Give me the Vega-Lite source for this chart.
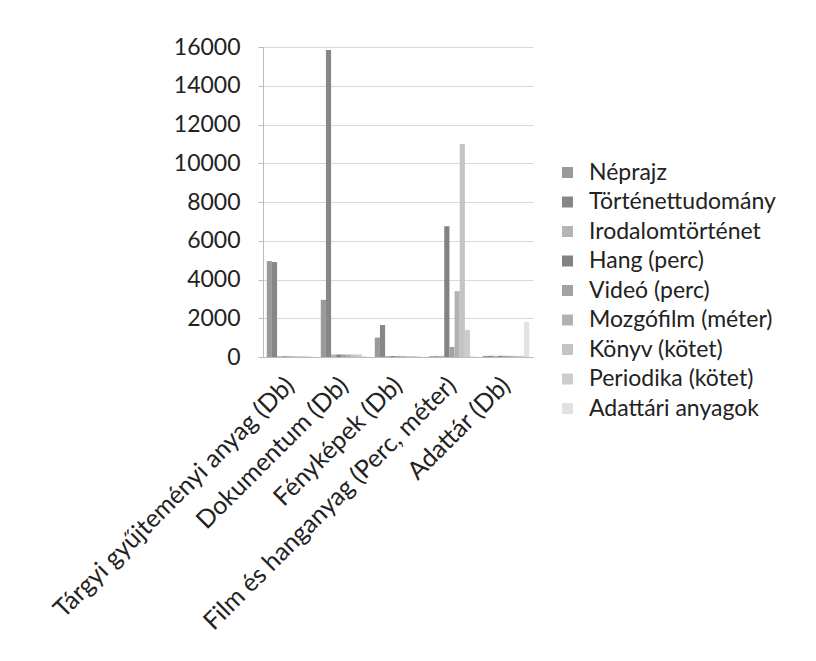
{
  "$schema": "https://vega.github.io/schema/vega-lite/v6.json",
  "width": 270,
  "height": 310,
  "autosize": {"type": "none"},
  "padding": {"left": 263, "top": 47, "right": 283, "bottom": 304},
  "background": "white",
  "data": {
    "values": [
      {"kat": "Tárgyi gyűjteményi anyag (Db)", "sor": "Néprajz", "ertek": 4950},
      {"kat": "Tárgyi gyűjteményi anyag (Db)", "sor": "Történettudomány", "ertek": 4900},
      {"kat": "Tárgyi gyűjteményi anyag (Db)", "sor": "Irodalomtörténet", "ertek": 40},
      {"kat": "Tárgyi gyűjteményi anyag (Db)", "sor": "Hang (perc)", "ertek": 40},
      {"kat": "Tárgyi gyűjteményi anyag (Db)", "sor": "Videó (perc)", "ertek": 40},
      {"kat": "Tárgyi gyűjteményi anyag (Db)", "sor": "Mozgófilm (méter)", "ertek": 40},
      {"kat": "Tárgyi gyűjteményi anyag (Db)", "sor": "Könyv (kötet)", "ertek": 40},
      {"kat": "Tárgyi gyűjteményi anyag (Db)", "sor": "Periodika (kötet)", "ertek": 40},
      {"kat": "Tárgyi gyűjteményi anyag (Db)", "sor": "Adattári anyagok", "ertek": 40},
      {"kat": "Dokumentum (Db)", "sor": "Néprajz", "ertek": 2950},
      {"kat": "Dokumentum (Db)", "sor": "Történettudomány", "ertek": 15850},
      {"kat": "Dokumentum (Db)", "sor": "Irodalomtörténet", "ertek": 130},
      {"kat": "Dokumentum (Db)", "sor": "Hang (perc)", "ertek": 130},
      {"kat": "Dokumentum (Db)", "sor": "Videó (perc)", "ertek": 130},
      {"kat": "Dokumentum (Db)", "sor": "Mozgófilm (méter)", "ertek": 130},
      {"kat": "Dokumentum (Db)", "sor": "Könyv (kötet)", "ertek": 130},
      {"kat": "Dokumentum (Db)", "sor": "Periodika (kötet)", "ertek": 130},
      {"kat": "Dokumentum (Db)", "sor": "Adattári anyagok", "ertek": 40},
      {"kat": "Fényképek (Db)", "sor": "Néprajz", "ertek": 1000},
      {"kat": "Fényképek (Db)", "sor": "Történettudomány", "ertek": 1650},
      {"kat": "Fényképek (Db)", "sor": "Irodalomtörténet", "ertek": 50},
      {"kat": "Fényképek (Db)", "sor": "Hang (perc)", "ertek": 50},
      {"kat": "Fényképek (Db)", "sor": "Videó (perc)", "ertek": 50},
      {"kat": "Fényképek (Db)", "sor": "Mozgófilm (méter)", "ertek": 50},
      {"kat": "Fényképek (Db)", "sor": "Könyv (kötet)", "ertek": 50},
      {"kat": "Fényképek (Db)", "sor": "Periodika (kötet)", "ertek": 50},
      {"kat": "Fényképek (Db)", "sor": "Adattári anyagok", "ertek": 50},
      {"kat": "Film és hanganyag (Perc, méter)", "sor": "Néprajz", "ertek": 40},
      {"kat": "Film és hanganyag (Perc, méter)", "sor": "Történettudomány", "ertek": 40},
      {"kat": "Film és hanganyag (Perc, méter)", "sor": "Irodalomtörténet", "ertek": 60},
      {"kat": "Film és hanganyag (Perc, méter)", "sor": "Hang (perc)", "ertek": 6750},
      {"kat": "Film és hanganyag (Perc, méter)", "sor": "Videó (perc)", "ertek": 520},
      {"kat": "Film és hanganyag (Perc, méter)", "sor": "Mozgófilm (méter)", "ertek": 3400},
      {"kat": "Film és hanganyag (Perc, méter)", "sor": "Könyv (kötet)", "ertek": 11000},
      {"kat": "Film és hanganyag (Perc, méter)", "sor": "Periodika (kötet)", "ertek": 1400},
      {"kat": "Film és hanganyag (Perc, méter)", "sor": "Adattári anyagok", "ertek": 40},
      {"kat": "Adattár (Db)", "sor": "Néprajz", "ertek": 60},
      {"kat": "Adattár (Db)", "sor": "Történettudomány", "ertek": 60},
      {"kat": "Adattár (Db)", "sor": "Irodalomtörténet", "ertek": 60},
      {"kat": "Adattár (Db)", "sor": "Hang (perc)", "ertek": 60},
      {"kat": "Adattár (Db)", "sor": "Videó (perc)", "ertek": 60},
      {"kat": "Adattár (Db)", "sor": "Mozgófilm (méter)", "ertek": 60},
      {"kat": "Adattár (Db)", "sor": "Könyv (kötet)", "ertek": 60},
      {"kat": "Adattár (Db)", "sor": "Periodika (kötet)", "ertek": 60},
      {"kat": "Adattár (Db)", "sor": "Adattári anyagok", "ertek": 1800}
    ]
  },
  "mark": {"type": "bar"},
  "encoding": {
    "x": {
      "field": "kat", "type": "nominal", "sort": null, "title": null,
      "scale": {"paddingInner": 0.14, "paddingOuter": 0.07},
      "axis": {"labelAngle": -45, "labelAlign": "right", "labelBaseline": "middle", "labelPadding": 24,
               "ticks": false, "domainColor": "#bbbbbb", "labelFontSize": 25, "labelColor": "#222222", "labelLimit": 600}
    },
    "xOffset": {
      "field": "sor", "type": "nominal",
      "sort": ["Néprajz", "Történettudomány", "Irodalomtörténet", "Hang (perc)", "Videó (perc)", "Mozgófilm (méter)", "Könyv (kötet)", "Periodika (kötet)", "Adattári anyagok"]
    },
    "y": {
      "field": "ertek", "type": "quantitative", "title": null,
      "scale": {"domain": [0, 16000], "nice": false},
      "axis": {"values": [0, 2000, 4000, 6000, 8000, 10000, 12000, 14000, 16000], "format": "d",
               "labelFontSize": 23, "labelColor": "#222222", "labelPadding": 18,
               "domain": true, "domainColor": "#bbbbbb", "tickColor": "#bbbbbb", "tickSize": 5,
               "gridColor": "#d9d9d9"}
    },
    "color": {
      "field": "sor", "type": "nominal", "title": null,
      "sort": ["Néprajz", "Történettudomány", "Irodalomtörténet", "Hang (perc)", "Videó (perc)", "Mozgófilm (méter)", "Könyv (kötet)", "Periodika (kötet)", "Adattári anyagok"],
      "scale": {
        "domain": ["Néprajz", "Történettudomány", "Irodalomtörténet", "Hang (perc)", "Videó (perc)", "Mozgófilm (méter)", "Könyv (kötet)", "Periodika (kötet)", "Adattári anyagok"],
        "range": ["#9a9a9a", "#878787", "#b5b5b5", "#828282", "#a2a2a2", "#b2b2b2", "#c4c4c4", "#cdcdcd", "#e2e2e2"]
      },
      "legend": {"orient": "none", "legendX": 293, "legendY": 114, "symbolType": "square", "symbolSize": 121,
                 "symbolStrokeWidth": 0, "labelFontSize": 23, "labelColor": "#222222", "rowPadding": 5.5,
                 "labelOffset": 10, "labelLimit": 400}
    }
  },
  "config": {
    "font": "Lato",
    "view": {"stroke": null}
  }
}
